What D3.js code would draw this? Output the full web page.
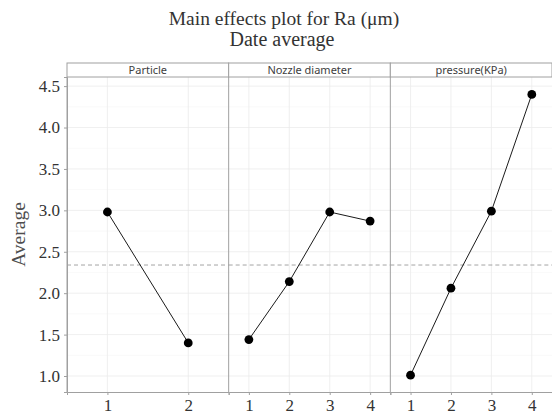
<!DOCTYPE html>
<html><head><meta charset="utf-8">
<script src="https://cdn.jsdelivr.net/npm/d3@7"></script>
<style>body{margin:0;background:#fff}</style>
</head><body>
<svg id="c" width="552" height="417"></svg>
<script>
const titleLines = ["Main effects plot for Ra (\u03bcm)", "Date average"];
const yLabel = "Average";
const facets = ["Particle", "Nozzle diameter", "pressure(KPa)"];
const particleLevels = ["1", "2"];
const particleMeans = [2.98, 1.40];
const nozzleLevels = ["1", "2", "3", "4"];
const nozzleMeans = [1.44, 2.14, 2.98, 2.87];
const pressureLevels = ["1", "2", "3", "4"];
const pressureMeans = [1.01, 2.06, 2.99, 4.40];
const grandMean = 2.34;
const yTicks = [1.0, 1.5, 2.0, 2.5, 3.0, 3.5, 4.0, 4.5];

const panels = [
  {name: facets[0], levels: particleLevels, values: particleMeans},
  {name: facets[1], levels: nozzleLevels, values: nozzleMeans},
  {name: facets[2], levels: pressureLevels, values: pressureMeans}
];

const svg = d3.select("#c");
const mLeft = 67, mRight = 552, mTop = 77, mBottom = 392, stripTop = 63;
const pw = (mRight - mLeft) / panels.length;
const y = d3.scaleLinear().domain([0.807, 4.61]).range([mBottom, mTop]);
const gridCol = "#ebebeb", borderCol = "#a0a0a0", textCol = "#333";

// titles
svg.append("text").attr("x", 284).attr("y", 25).attr("text-anchor", "middle")
  .style("font-family", "Liberation Serif").style("font-size", "19.5px").attr("fill", "#333").text(titleLines[0]);
svg.append("text").attr("x", 282).attr("y", 46).attr("text-anchor", "middle")
  .style("font-family", "Liberation Serif").style("font-size", "20px").attr("fill", "#333").text(titleLines[1]);

// y label
svg.append("text").attr("transform", `translate(25,${(mTop+mBottom)/2}) rotate(-90)`)
  .attr("text-anchor", "middle").style("font-family", "Liberation Serif").style("font-size", "19.5px")
  .attr("fill", "#4d4d4d").text(yLabel);

panels.forEach((p, i) => {
  const x0 = mLeft + i * pw, x1 = x0 + pw;
  const x = d3.scalePoint().domain(p.levels).range([x0, x1]).padding(0.5);
  const g = svg.append("g");
  yTicks.slice(0, -1).forEach(t => {
    g.append("line").attr("x1", x0).attr("x2", x1).attr("y1", y(t + 0.25)).attr("y2", y(t + 0.25))
      .attr("stroke", "#f5f5f5").attr("stroke-width", 0.6);
  });
  yTicks.forEach(t => {
    g.append("line").attr("x1", x0).attr("x2", x1).attr("y1", y(t)).attr("y2", y(t))
      .attr("stroke", gridCol).attr("stroke-width", 0.8);
  });
  p.levels.forEach(l => {
    g.append("line").attr("x1", x(l)).attr("x2", x(l)).attr("y1", mTop).attr("y2", mBottom)
      .attr("stroke", gridCol).attr("stroke-width", 0.8);
  });
  g.append("line").attr("x1", x0).attr("x2", x1).attr("y1", y(grandMean)).attr("y2", y(grandMean))
    .attr("stroke", "#999").attr("stroke-width", 0.9).attr("stroke-dasharray", "4,3");
  g.append("rect").attr("x", x0).attr("y", stripTop).attr("width", pw).attr("height", mTop - stripTop)
    .attr("fill", "#fff").attr("stroke", borderCol).attr("stroke-width", 1);
  g.append("text").attr("x", (x0 + x1) / 2).attr("y", mTop - 3).attr("text-anchor", "middle")
    .style("font-family", "Noto Sans").style("font-size", "11px").attr("fill", "#404040").text(p.name);
  g.append("line").attr("x1", x0).attr("x2", x0).attr("y1", mTop).attr("y2", mBottom)
    .attr("stroke", borderCol).attr("stroke-width", 1);
  const data = p.levels.map((l, k) => ({l, v: p.values[k]}));
  g.append("path").datum(data)
    .attr("d", d3.line().x(d => x(d.l)).y(d => y(d.v)))
    .attr("fill", "none").attr("stroke", "#000").attr("stroke-width", 0.9);
  g.selectAll("circle").data(data).join("circle")
    .attr("cx", d => x(d.l)).attr("cy", d => y(d.v)).attr("r", 4.4).attr("fill", "#000");
  const ax = svg.append("g").attr("transform", `translate(0,${mBottom})`)
    .call(d3.axisBottom(x).tickSize(3).tickPadding(4));
  ax.select(".domain").attr("stroke", borderCol);
  ax.selectAll(".tick line").attr("stroke", borderCol);
  ax.selectAll("text").style("font-family", "Liberation Serif").style("font-size", "17px").attr("fill", textCol);
});

const ay = svg.append("g").attr("transform", `translate(${mLeft},0)`)
  .call(d3.axisLeft(y).tickValues(yTicks).tickFormat(d3.format(".1f")).tickSize(3).tickPadding(4));
ay.select(".domain").attr("stroke", borderCol);
ay.selectAll(".tick line").attr("stroke", borderCol);
ay.selectAll("text").style("font-family", "Liberation Serif").style("font-size", "17px").attr("fill", textCol);
</script>
</body></html>
